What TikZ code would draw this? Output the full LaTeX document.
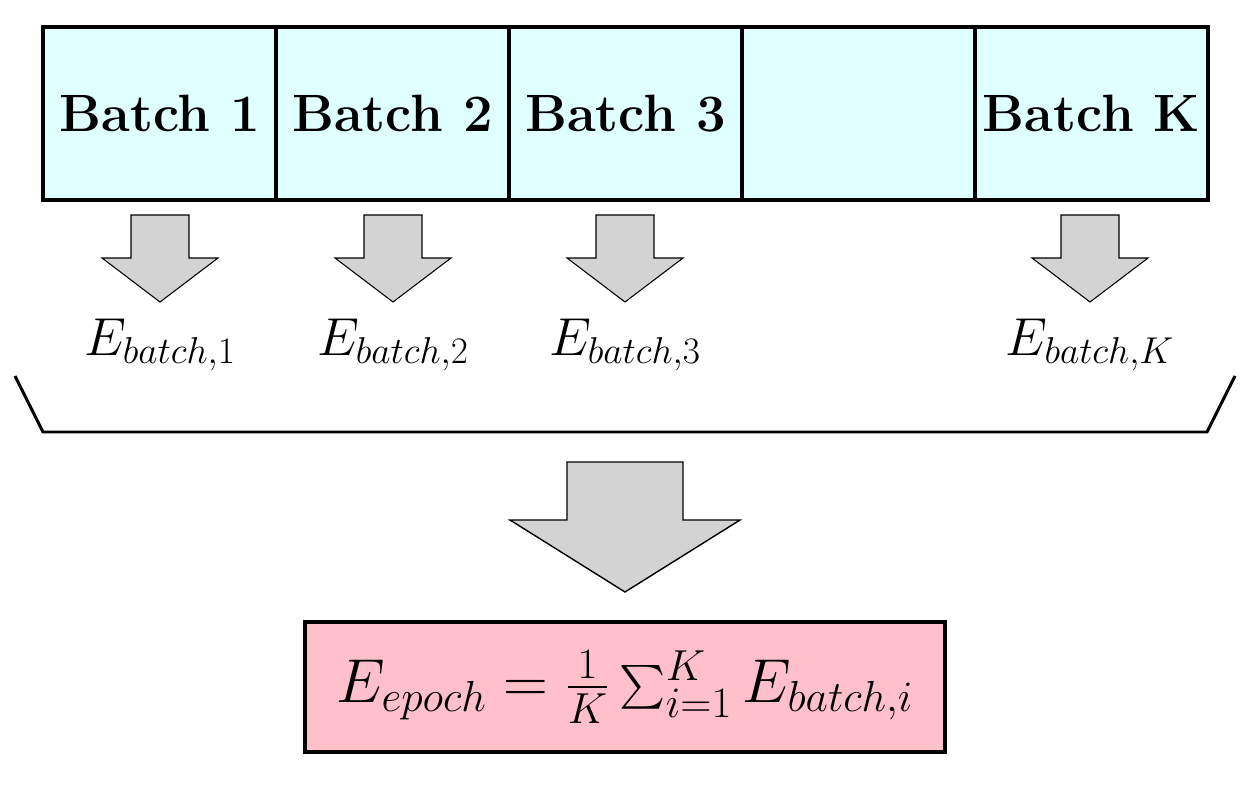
\RequirePackage{fix-cm}
\documentclass[tikz,border=0pt]{standalone}
\usepackage{amsmath}
\usetikzlibrary{positioning}
\definecolor{batchcyan}{RGB}{224,255,255}
\definecolor{epochpink}{RGB}{255,192,203}
\definecolor{arrowgray}{RGB}{211,211,211}

\begin{document}
\begin{tikzpicture}[x=0.02cm,y=-0.02cm,
  batch/.style={draw, line width=2.3pt, fill=batchcyan, minimum width=4.66cm,
    minimum height=3.46cm, outer sep=0pt, inner sep=0pt,
    font=\fontsize{29.9}{36}\selectfont\bfseries},
  blockarrow/.style={draw, fill=arrowgray, line width=0.6pt},
  lbl/.style={anchor=base, inner sep=0pt, font=\fontsize{30.4}{36}\selectfont}]
\useasboundingbox (0,0) rectangle (1253,784);

% the batches
\node[batch] (b1) at (159.5,113.5) {Batch 1};
\node[batch, right=0pt of b1] (b2) {Batch 2};
\node[batch, right=0pt of b2] (b3) {Batch 3};
\node[batch, right=0pt of b3] (b4) {};
\node[batch, right=0pt of b4] (bK) {Batch K};

% one error per batch
\foreach \n/\x in {1/160,2/393,3/625,K/1090}
{
\draw [blockarrow] (\x-29,215) -- (\x+29,215) -- (\x+29,258) -- (\x+58,258)
  -- (\x,302) -- (\x-58,258) -- (\x-29,258) -- cycle;
\node[lbl] (e\n) at (\x,355) {$E_{batch,\n}$};
}

\draw [line width=1.7pt] (15,376) -- (43,432) -- (1207,432) -- (1235,376);

\draw [blockarrow, line width=0.8pt] (567,462) -- (683,462) -- (683,520) -- (740,520)
  -- (625,592) -- (510,520) -- (567,520) -- cycle;

\node[draw, line width=2.3pt, fill=epochpink, minimum width=12.8cm, minimum height=2.6cm,
  font=\fontsize{35.3}{42}\selectfont] (epoch) at (625,687)
  {$E_{epoch} = \frac{1}{K}\sum_{i=1}^{K} E_{batch,i}$};

\end{tikzpicture}
\end{document}
